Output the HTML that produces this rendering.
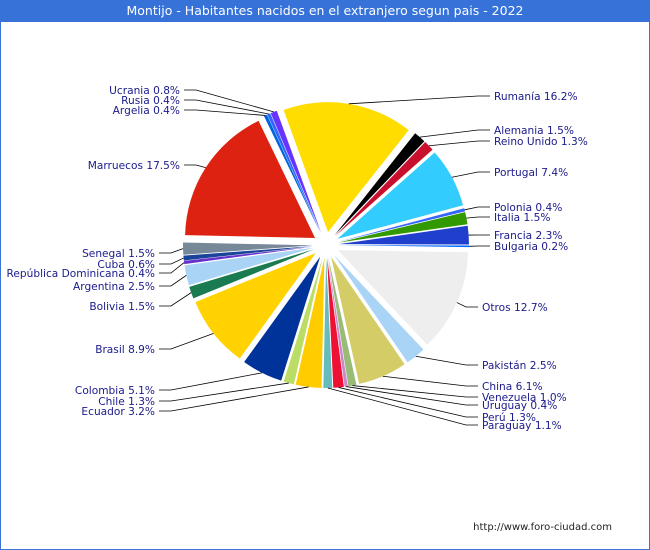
<!DOCTYPE html>
<html><head><meta charset="utf-8"><style>
body{margin:0;width:650px;height:550px;overflow:hidden;font-family:"DejaVu Sans","Liberation Sans",sans-serif;}
#wrap{position:absolute;left:0;top:0;width:648px;height:548px;border:1px solid #3a72d6;background:#fff;}
#title{position:absolute;left:0;top:0;width:650px;height:22px;background:#3672d8;color:#fff;font-size:12.5px;line-height:22px;text-align:center;}
#foot{position:absolute;right:38px;top:522px;font-size:10px;color:#222;}
svg{position:absolute;left:0;top:0}
</style></head><body>
<div id="wrap"></div>
<div id="title">Montijo - Habitantes nacidos en el extranjero segun pais - 2022</div>
<svg id="chart" width="650" height="550"></svg>
<div id="foot">http://www.foro-ciudad.com</div>
<script>
const categories=["Rumanía","Alemania","Reino Unido","Portugal","Polonia","Italia","Francia","Bulgaria","Otros","Pakistán","China","Venezuela","Uruguay","Perú","Paraguay","Ecuador","Chile","Colombia","Brasil","Bolivia","Argentina","República Dominicana","Cuba","Senegal","Marruecos","Argelia","Rusia","Ucrania"];
const values=[16.2,1.5,1.3,7.4,0.4,1.5,2.3,0.2,12.7,2.5,6.1,1.0,0.4,1.3,1.1,3.2,1.3,5.1,8.9,1.5,2.5,0.4,0.6,1.5,17.5,0.4,0.4,0.8];
const colors=["#ffdd00","#000000","#c8102e","#33ccff","#3366ff","#339900","#1f3fcc","#0066ff","#eeeeee","#aad4f5","#d4cc66","#99bb77","#cc88cc","#ee1133","#66bbbb","#ffcc00","#bbdd66","#003399","#ffd200","#1a7a50","#aad4f5","#6633cc","#1a4499","#778899","#dd2211","#0066dd","#3366ff","#6633ff"];
// label layout (not data)
const labelY=[96,130,141,172,207,217,235,246,307,365,386,397,405,417,425,411,401,390,349,306,286,273,264,253,165,110,100,90];
const svg=document.getElementById('chart');const NS='http://www.w3.org/2000/svg';
const cx=326,cy=245,R=130,EX=13,start=-20;
const total=values.reduce((a,b)=>a+b,0);
function pt(a,r){const t=(a-90)*Math.PI/180;return [cx+r*Math.cos(t),cy+r*Math.sin(t)];}
let acc=0;
values.forEach((v,i)=>{
 const a0=start+acc/total*360;acc+=v;const a1=start+acc/total*360;const am=(a0+a1)/2;
 const [ox,oy]=pt(am,EX);const dx=ox-cx,dy=oy-cy;
 const p0=pt(a0,R),p1=pt(a1,R);
 const path=document.createElementNS(NS,'path');
 path.setAttribute('d',`M${cx+dx},${cy+dy}L${p0[0]+dx},${p0[1]+dy}A${R},${R} 0 ${a1-a0>180?1:0} 1 ${p1[0]+dx},${p1[1]+dy}Z`);
 path.setAttribute('fill',colors[i]);
 
 
 svg.appendChild(path);
 const e=pt(am,R+EX);const right=e[0]>=cx;const ly=labelY[i];
 const near=(i>=8&&i<=14);
 const ex=right?(near?478:490):(i>=24?184:159);
 const lx=right?(near?482:494):(i>=24?180:155);
 const line=document.createElementNS(NS,'polyline');
 const mx=right?ex-12:ex+12;
 line.setAttribute('points',`${e[0]},${e[1]} ${mx},${ly} ${ex},${ly}`);
 line.setAttribute('fill','none');line.setAttribute('stroke','#000');line.setAttribute('stroke-width','0.8');
 
 
 svg.appendChild(line);
 const t=document.createElementNS(NS,'text');
 t.setAttribute('x',lx);t.setAttribute('y',ly+4);
 t.setAttribute('text-anchor',right?'start':'end');
 t.setAttribute('font-size','10.6');t.setAttribute('fill','#1a1a8c');
 t.setAttribute('font-family','DejaVu Sans, Liberation Sans, sans-serif');
 t.textContent=categories[i]+' '+v.toFixed(1)+'%';
 
 
 svg.appendChild(t);
});
</script>
</body></html>
